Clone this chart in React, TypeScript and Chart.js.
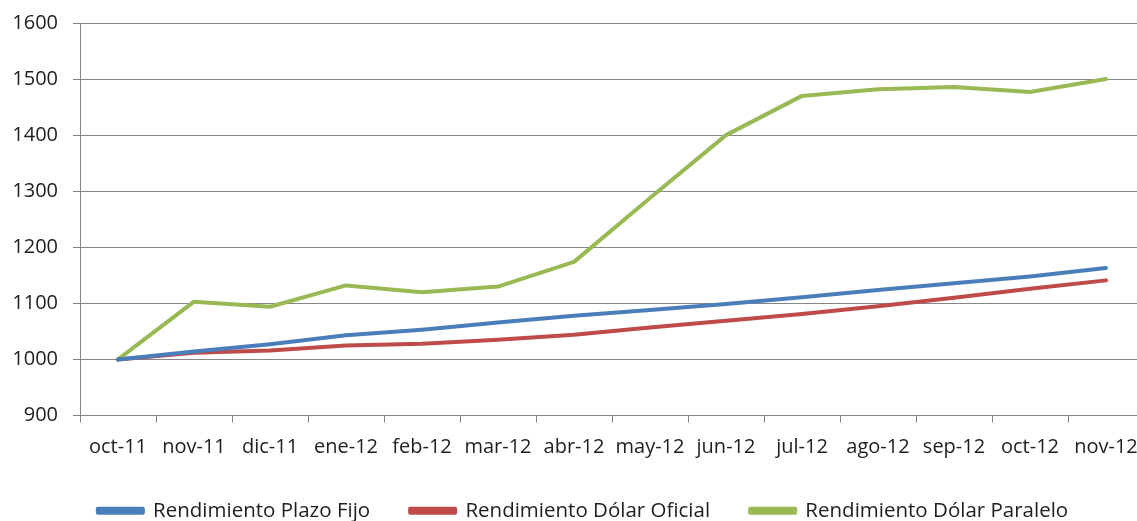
import React, { useEffect, useRef } from 'react';
import { Chart, registerables } from 'chart.js';

Chart.register(...registerables);

const categories = ['oct-11', 'nov-11', 'dic-11', 'ene-12', 'feb-12', 'mar-12', 'abr-12', 'may-12', 'jun-12', 'jul-12', 'ago-12', 'sep-12', 'oct-12', 'nov-12'];
const plazoFijo = [1000, 1014, 1027, 1043, 1053, 1066, 1078, 1088, 1099, 1111, 1124, 1136, 1148, 1163];
const dolarOficial = [1000, 1012, 1016, 1025, 1028, 1035, 1044, 1057, 1069, 1081, 1095, 1110, 1126, 1141];
const dolarParalelo = [1000, 1103, 1094, 1132, 1120, 1130, 1174, 1288, 1400, 1470, 1482, 1486, 1477, 1500];
const seriesNames = ['Rendimiento Plazo Fijo', 'Rendimiento Dólar Oficial', 'Rendimiento Dólar Paralelo'];
const seriesColors = ['#4a7ebb', '#be4b48', '#98b954'];
const yMin = 900;
const yMax = 1600;
const yStep = 100;

const FONT = '"Open Sans", Lato, sans-serif';
const TEXT = '#1e1e1e';
const GRID = '#868686';

const legendShift = {
  id: 'legendShift',
  afterLayout(c: any) {
    if (c.legend) {
      c.legend.left += 11;
      c.legend.right += 11;
    }
  },
};

export default function App() {
  const ref = useRef<HTMLCanvasElement | null>(null);

  useEffect(() => {
    if (!ref.current) return;
    const series = [plazoFijo, dolarOficial, dolarParalelo];
    const chart = new Chart(ref.current, {
      type: 'line',
      data: {
        labels: categories,
        datasets: series.map((d, i) => ({
          label: seriesNames[i],
          data: d,
          borderColor: seriesColors[i],
          backgroundColor: seriesColors[i],
          borderWidth: 4,
          pointRadius: 0,
          tension: 0,
          borderJoinStyle: 'round' as const,
          borderCapStyle: 'round' as const,
        })),
      },
      plugins: [legendShift],
      options: {
        responsive: false,
        animation: false,
        layout: { padding: { top: 23, left: 0, right: 16, bottom: -10 } },
        plugins: {
          title: { display: false },
          tooltip: { enabled: false },
          legend: {
            position: 'bottom',
            labels: {
              boxWidth: 45,
              boxHeight: 4,
              padding: 40,
              color: TEXT,
              font: { family: FONT, size: 20.5 },
            },
          },
        },
        scales: {
          x: {
            offset: true,
            grid: {
              offset: true,
              drawOnChartArea: false,
              drawTicks: true,
              tickLength: 7,
              color: GRID,
            },
            border: { color: GRID, width: 1 },
            ticks: {
              color: TEXT,
              font: { family: FONT, size: 20 },
              padding: 13,
              maxRotation: 0,
              autoSkip: false,
            },
            afterFit: (s: any) => { s.height = 45; },
          },
          y: {
            min: yMin,
            max: yMax,
            grid: { color: GRID, tickLength: 7, drawTicks: true },
            border: { color: GRID, width: 1 },
            ticks: {
              stepSize: yStep,
              color: TEXT,
              font: { family: FONT, size: 20 },
              padding: 15,
              callback: (v: any) => String(v),
            },
            afterFit: (s: any) => { s.width = 80; s.paddingTop = 0; s.paddingBottom = 0; },
          },
        },
      },
    });
    return () => chart.destroy();
  }, []);

  return (
    <div style={{ position: 'fixed', left: 0, top: 0, width: 1137, height: 521, overflow: 'hidden', background: '#fff' }}>
      <canvas ref={ref} width={1160} height={521} style={{ width: 1160, height: 521, display: 'block' }} />
    </div>
  );
}
